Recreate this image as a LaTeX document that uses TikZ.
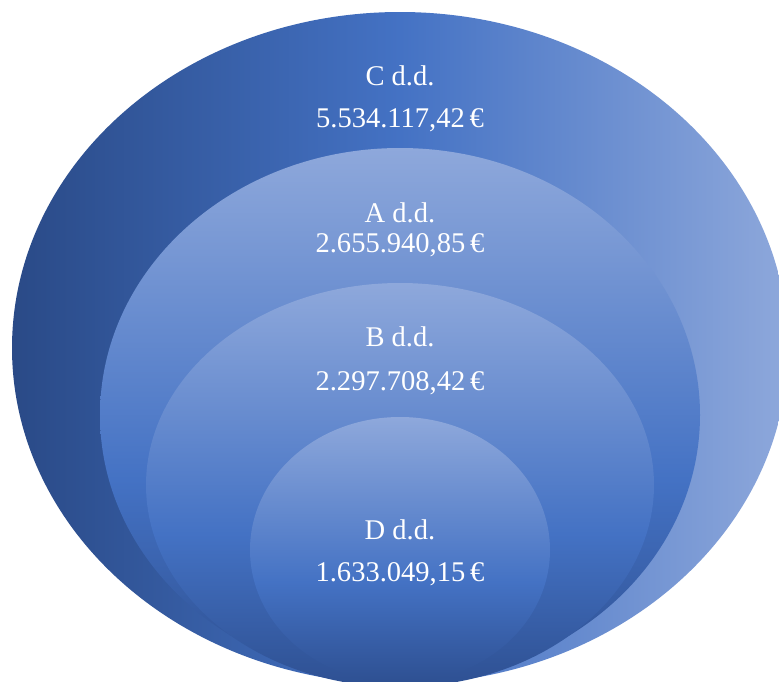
\documentclass[tikz,border=0pt]{standalone}
\usepackage{fontspec}
\setmainfont{Liberation Serif}
\usepackage{tikz}
\usetikzlibrary{calc}
\usetikzlibrary{shapes}

\definecolor{blueDark}{RGB}{42,74,135}
\definecolor{blueMid}{RGB}{68,114,196}
\definecolor{blueLight}{RGB}{142,168,219}
\definecolor{blueDeep}{RGB}{46,80,146}

\pgfdeclarehorizontalshading{outerShade}{100bp}{color(0bp)=(blueDark); color(25bp)=(blueDark);
  color(50bp)=(blueMid); color(75bp)=(blueLight); color(100bp)=(blueLight)}
\pgfdeclareverticalshading{innerShade}{100bp}{color(0bp)=(blueDeep); color(25bp)=(blueDeep);
  color(44bp)=(blueMid); color(75bp)=(blueLight); color(100bp)=(blueLight)}

\begin{document}
\begin{tikzpicture}[x=0.75pt,y=-0.75pt
        ,outer/.style = {shading=outerShade}
        ,inner/.style = {shading=innerShade}
        ,label/.style = {text=white, anchor=base, inner sep=0pt, font=\fontsize{21.4}{24}\selectfont}
      ]
      \useasboundingbox (0,0) rectangle (779,682);
      \clip (0,0) rectangle (779,682);

      % nested sets
      \shade[outer] (400,348) ellipse [x radius=388, y radius=336];
      \shade[inner] (400,415) ellipse [x radius=300, y radius=267];
      \shade[inner] (400,485) ellipse [x radius=254, y radius=202];
      \shade[inner] (400,550) ellipse [x radius=150, y radius=133];

      \node[label](cName) at (400,85) {C d.d.};
      \node[label](cSum) at (400,127) {5.534.117,42\,€};
      \node[label](aName) at (400,222) {A d.d.};
      \node[label](aSum) at (400,252) {2.655.940,85\,€};
      \node[label](bName) at (400,346) {B d.d.};
      \node[label](bSum) at (400,390) {2.297.708,42\,€};
      \node[label](dName) at (400,539) {D d.d.};
      \node[label](dSum) at (400,581) {1.633.049,15\,€};
    \end{tikzpicture}
\end{document}
